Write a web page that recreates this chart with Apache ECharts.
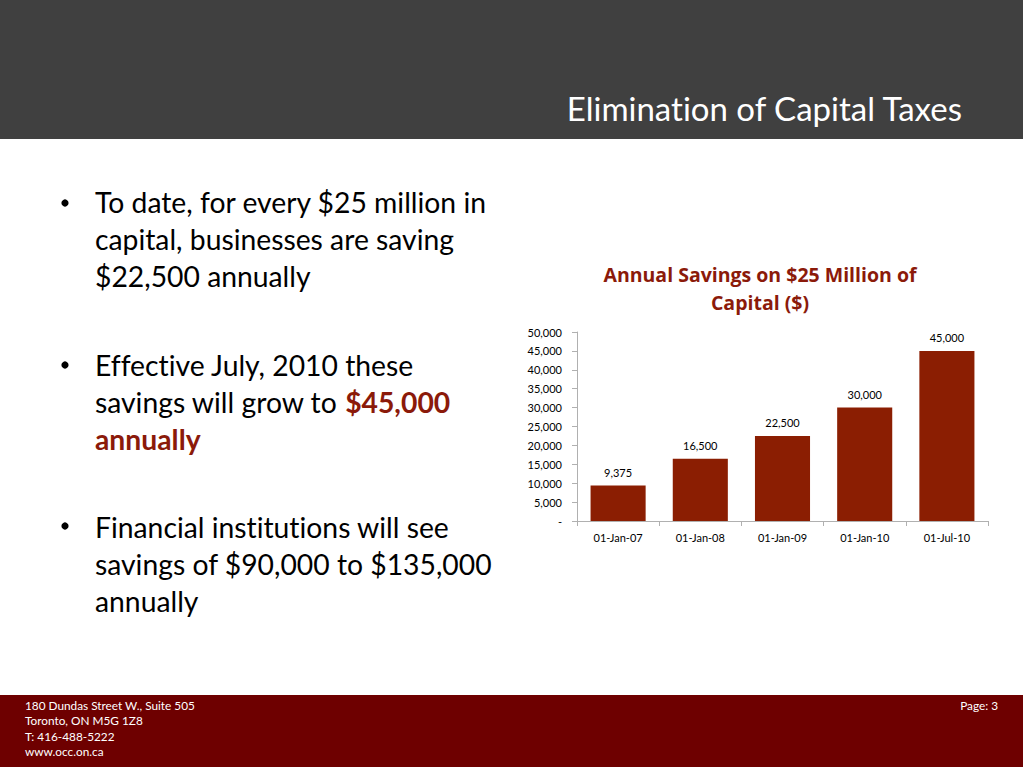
<!DOCTYPE html>
<html><head><meta charset="utf-8">
<script src="https://cdn.jsdelivr.net/npm/echarts@6/dist/echarts.min.js"></script>
<style>html,body{margin:0;padding:0;background:#fff}#c{width:1023px;height:767px}
svg text{font-variant-ligatures:none;font-feature-settings:"liga" 0,"clig" 0;}</style>
</head><body><div id="c"></div>
<script>
const categories = ['01-Jan-07','01-Jan-08','01-Jan-09','01-Jan-10','01-Jul-10'];
const savings = [9375, 16500, 22500, 30000, 45000];
const yTicks = {min: 0, max: 50000, interval: 5000};
const chartTitle = 'Annual Savings on $25 Million of\nCapital ($)';
const slideTitle = 'Elimination of Capital Taxes';
const footerLines = ['180 Dundas Street W., Suite 505','Toronto, ON M5G 1Z8','T: 416-488-5222','www.occ.on.ca'];
const pageLabel = 'Page: 3';

const F = 'Lato, "Open Sans", sans-serif';
const FT = '"Open Sans", Lato, sans-serif';
const RED = '#8B1A0A';
const chart = echarts.init(document.getElementById('c'), null, {renderer: 'svg'});
const BFS = 28.3;
const bulletStyle = {fontFamily: F, fontSize: BFS, fill: '#000', lineHeight: 37};
chart.setOption({
  animation: false,
  title: {text: chartTitle, left: 755, top: 255, textAlign: 'center',
    textStyle: {fontFamily: FT, fontSize: 19.5, fontWeight: 'bold', color: RED, lineHeight: 28}},
  grid: {left: 577, right: 35, top: 332, bottom: 246},
  xAxis: {type: 'category', data: categories,
    axisLine: {lineStyle: {color: '#b0b0b0'}},
    axisTick: {show: true, length: 5, lineStyle: {color: '#b0b0b0'}},
    axisLabel: {fontFamily: F, fontSize: 11, color: '#000', margin: 11}},
  yAxis: {type: 'value', min: yTicks.min, max: yTicks.max, interval: yTicks.interval,
    splitLine: {show: false},
    axisLine: {show: true, lineStyle: {color: '#b0b0b0'}},
    axisTick: {show: true, length: 5, inside: false, lineStyle: {color: '#b0b0b0'}},
    axisLabel: {fontFamily: F, fontSize: 11, color: '#000', margin: 15,
      formatter: v => v === 0 ? '-' : v.toLocaleString('en-US')}},
  series: [{type: 'bar', data: savings, barCategoryGap: '33%',
    itemStyle: {color: '#8B1E02'},
    label: {show: true, position: 'top', distance: 8, fontFamily: F, fontSize: 11, color: '#000',
      formatter: p => p.value.toLocaleString('en-US')}}],
  graphic: [
    {type: 'rect', shape: {x: 0, y: 0, width: 1023, height: 139}, style: {fill: '#404040'}},
    {type: 'text', x: 962, y: 91, style: {text: slideTitle, fontFamily: F, fontSize: 33, fill: '#fff', textAlign: 'right'}},
    {type: 'rect', shape: {x: 0, y: 695, width: 1023, height: 72}, style: {fill: '#6E0000'}},
    {type: 'text', x: 25, y: 698, style: {text: footerLines.join('\n'), fontFamily: F, fontSize: 11.8, lineHeight: 15.3, fill: '#fff'}},
    {type: 'text', x: 998, y: 698, style: {text: pageLabel, fontFamily: F, fontSize: 11.8, lineHeight: 15.3, fill: '#fff', textAlign: 'right'}},
    {type: 'circle', shape: {cx: 65, cy: 203, r: 3.6}, style: {fill: '#000'}},
    {type: 'text', x: 95, y: 183, style: Object.assign({text: 'To date, for every $25 million in\ncapital, businesses are saving\n$22,500 annually'}, bulletStyle)},
    {type: 'circle', shape: {cx: 65, cy: 365, r: 3.6}, style: {fill: '#000'}},
    {type: 'text', x: 95, y: 346, style: {text: '{n|Effective July, 2010 these}\n{n|savings will grow to }{b|$45,000}\n{b|annually}',
      fontFamily: F, fontSize: BFS, lineHeight: 37,
      rich: {n: {fontFamily: F, fontSize: BFS, fill: '#000', lineHeight: 37},
             b: {fontFamily: F, fontSize: BFS, fontWeight: 'bold', fill: RED, lineHeight: 37}}}},
    {type: 'circle', shape: {cx: 65, cy: 526, r: 3.6}, style: {fill: '#000'}},
    {type: 'text', x: 95, y: 508, style: Object.assign({text: 'Financial institutions will see\nsavings of $90,000 to $135,000\nannually'}, bulletStyle)}
  ]
});
</script></body></html>
